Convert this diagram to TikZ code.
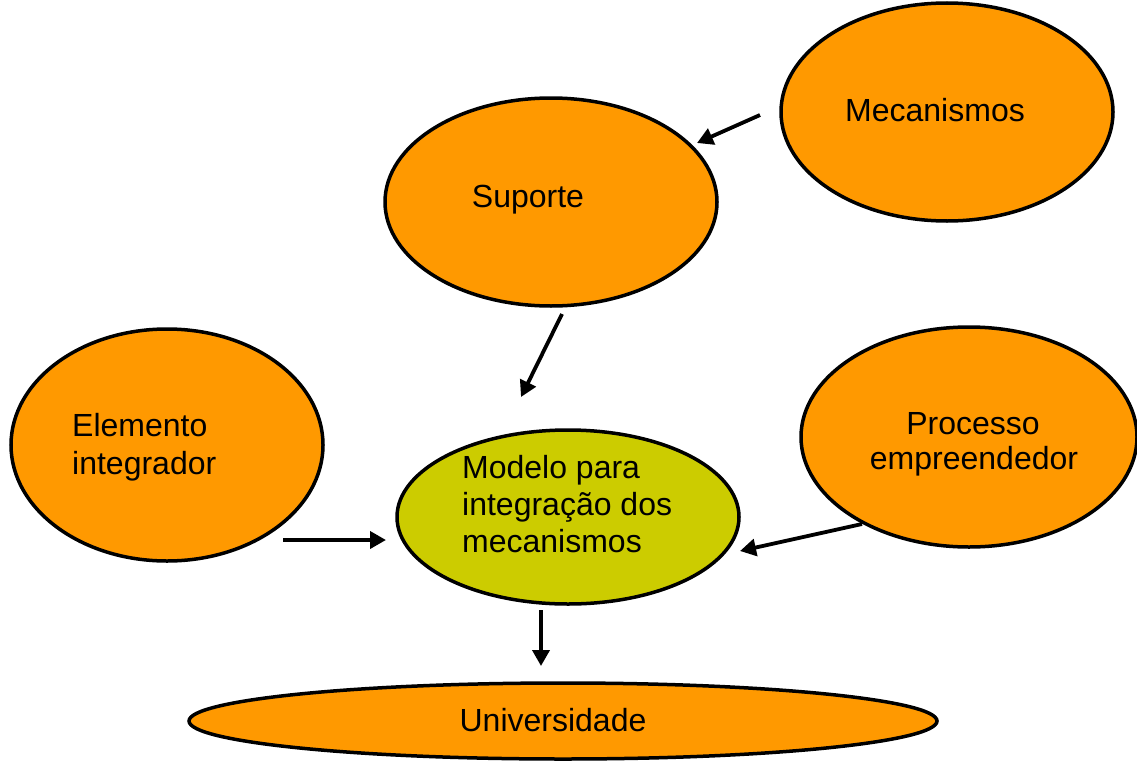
\documentclass[tikz,border=0pt]{standalone}
\usepackage{fontspec}
\setmainfont{Liberation Sans}
\usetikzlibrary{arrows.meta}
\definecolor{orng}{HTML}{FF9900}
\definecolor{grn}{HTML}{CCCC00}
\tikzset{
  bubble/.style={line width=3.5pt, draw=black},
  lbl/.style={font=\fontsize{32}{37.5}\selectfont, align=left, anchor=base west, inner sep=0pt},
  lblc/.style={font=\fontsize{32}{37.5}\selectfont, align=center},
  arr/.style={line width=3.8pt, -{Triangle[length=16pt,width=17pt]}}
}
\begin{document}
\begin{tikzpicture}[x=1pt,y=-1pt]
\useasboundingbox (0,0) rectangle (1137,760);
% ellipses
\draw[bubble, fill=orng] (947,112) ellipse [x radius=166, y radius=109];
\draw[bubble, fill=orng] (551,202) ellipse [x radius=166, y radius=104];
\draw[bubble, fill=orng] (167,445) ellipse [x radius=156, y radius=116];
\draw[bubble, fill=orng] (969,437) ellipse [x radius=168, y radius=110];
\draw[bubble, fill=grn] (568,517) ellipse [x radius=171, y radius=87];
\draw[bubble, fill=orng] (563,721) ellipse [x radius=374, y radius=38];
% texts
\node[lblc] (mec) at (935,110) {Mecanismos};
\node[lblc] (sup) at (528,200) {Suporte};
\node[lbl] (ele1) at (72,436) {Elemento};
\node[lbl] (ele2) at (72,474) {integrador};
\node[lblc] (pro1) at (973,424) {Processo};
\node[lblc] (pro2) at (974,461) {empreendedor};
\node[lbl] (mod1) at (462,478) {Modelo para};
\node[lbl] (mod2) at (462,515) {integração dos};
\node[lbl] (mod3) at (462,552) {mecanismos};
\node[lblc] (uni) at (553,720) {Universidade};
% arrow endpoints
\coordinate (a1s) at (760,115); \coordinate (a1e) at (697,143);
\coordinate (a2s) at (562,314); \coordinate (a2e) at (521,397);
\coordinate (a3s) at (283,540); \coordinate (a3e) at (386,540);
\coordinate (a4s) at (862,524); \coordinate (a4e) at (740,551);
\coordinate (a5s) at (541,610); \coordinate (a5e) at (541,666);
\draw[arr] (a1s) -- (a1e);
\draw[arr] (a2s) -- (a2e);
\draw[arr] (a3s) -- (a3e);
\draw[arr] (a4s) -- (a4e);
\draw[arr] (a5s) -- (a5e);
\end{tikzpicture}
\end{document}
